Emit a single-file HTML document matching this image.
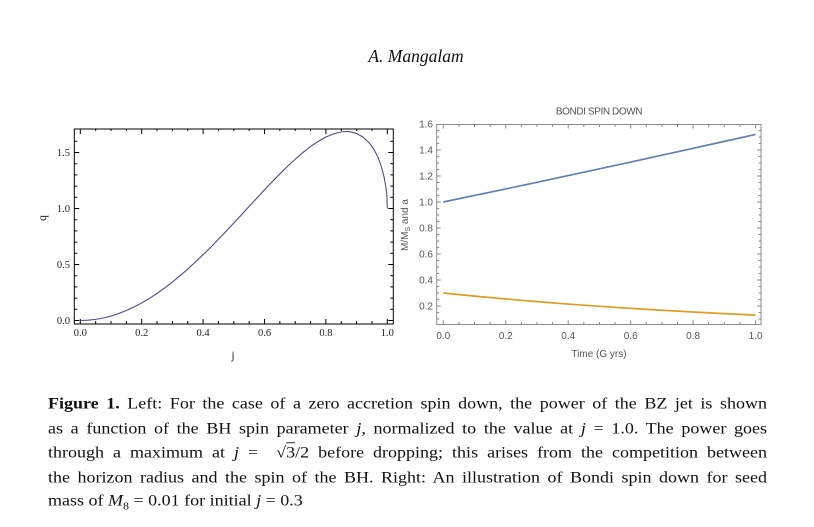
<!DOCTYPE html>
<html><head><meta charset="utf-8"><style>
html,body{margin:0;padding:0;background:#fff;}
body{width:814px;height:527px;position:relative;overflow:hidden;}
.cap{position:absolute;left:48px;width:719px;font-family:"Liberation Serif",serif;font-size:18px;color:#111;text-align:justify;text-align-last:justify;white-space:normal;line-height:22px;transform:scaleY(0.88);transform-origin:50% 50%;}
.cap i{font-style:italic;}
.hdr{position:absolute;left:0;width:832px;top:46px;text-align:center;font-family:"Liberation Serif",serif;font-style:italic;font-size:17.5px;color:#111;}
</style></head><body>
<div class="hdr">A. Mangalam</div>
<svg width="814" height="527" style="position:absolute;left:0;top:0" xmlns="http://www.w3.org/2000/svg">
<!-- LEFT PLOT -->
<g fill="none" stroke="#000" stroke-width="1">
<rect x="74.3" y="129" width="319" height="195"/>
<path d="M80.3 324V319M95.65 324V321M111 324V321M126.35 324V321M141.7 324V319M157.05 324V321M172.4 324V321M187.75 324V321M203.1 324V319M218.45 324V321M233.8 324V321M249.15 324V321M264.5 324V319M279.85 324V321M295.2 324V321M310.55 324V321M325.9 324V319M341.25 324V321M356.6 324V321M371.95 324V321M387.3 324V319"/>
<path d="M80.3 129V134M95.65 129V131M111 129V131M126.35 129V131M141.7 129V134M157.05 129V131M172.4 129V131M187.75 129V131M203.1 129V134M218.45 129V131M233.8 129V131M249.15 129V131M264.5 129V134M279.85 129V131M295.2 129V131M310.55 129V131M325.9 129V134M341.25 129V131M356.6 129V131M371.95 129V131M387.3 129V134"/>
<path d="M74.3 320.5H79.3M74.3 309.3H77.3M74.3 298.1H77.3M74.3 286.9H77.3M74.3 275.7H77.3M74.3 264.5H79.3M74.3 253.3H77.3M74.3 242.1H77.3M74.3 230.9H77.3M74.3 219.7H77.3M74.3 208.5H79.3M74.3 197.3H77.3M74.3 186.1H77.3M74.3 174.9H77.3M74.3 163.7H77.3M74.3 152.5H79.3M74.3 141.3H77.3"/>
<path d="M393.3 320.5H388.3M393.3 309.3H390.3M393.3 298.1H390.3M393.3 286.9H390.3M393.3 275.7H390.3M393.3 264.5H388.3M393.3 253.3H390.3M393.3 242.1H390.3M393.3 230.9H390.3M393.3 219.7H390.3M393.3 208.5H388.3M393.3 197.3H390.3M393.3 186.1H390.3M393.3 174.9H390.3M393.3 163.7H390.3M393.3 152.5H388.3M393.3 141.3H390.3"/>
</g>
<polyline fill="none" stroke="#4a4a92" stroke-width="1.1" points="80.3,320.5 88,320.2 95.65,319.38 103.3,318 111,316.04 118.7,313.5 126.35,310.53 134,307 141.7,302.94 149.4,298.4 157.05,293.38 164.7,287.9 172.4,282.02 180.1,275.7 187.75,269.04 195.4,262 203.1,254.68 210.8,247.1 218.45,239.22 226.1,231.2 233.8,223 241.5,214.7 249.15,206.4 256.8,198.1 264.5,189.86 272.2,181.8 279.85,173.93 287.5,166.4 295.2,159.25 302.9,152.6 310.55,146.6 318.2,141.4 325.9,137 333.6,133.9 341.25,131.87 346.17,131.5 350.46,131.81 356.6,133.46 362.74,136.84 368.88,142.49 371.95,146.44 375.02,151.39 378.09,157.66 381.16,165.86 384.23,177.57 385.77,186.36 386.6,193 386.99,198.5 387.3,208.5"/>
<g font-family="Liberation Serif, serif" font-size="10.5" fill="#222" text-anchor="middle">
<text x="80.3" y="336">0.0</text><text x="141.7" y="336">0.2</text><text x="203.1" y="336">0.4</text><text x="264.5" y="336">0.6</text><text x="325.9" y="336">0.8</text><text x="387.3" y="336">1.0</text>
</g>
<g font-family="Liberation Serif, serif" font-size="10.5" fill="#222" text-anchor="end">
<text x="70" y="324">0.0</text><text x="70" y="268">0.5</text><text x="70" y="212">1.0</text><text x="70" y="156">1.5</text>
</g>
<text x="233" y="359" font-family="Liberation Serif, serif" font-size="11.5" fill="#222" text-anchor="middle">j</text>
<text transform="translate(46,218) rotate(-90)" font-family="Liberation Serif, serif" font-size="11.5" fill="#222" text-anchor="middle">q</text>

<!-- RIGHT PLOT -->
<g fill="none" stroke="#8a8a8a" stroke-width="1">
<rect x="436.7" y="124.5" width="324.3" height="200"/>
<path d="M443.3 324.5V320.5M458.9 324.5V322M474.5 324.5V322M490.2 324.5V322M505.8 324.5V320.5M521.4 324.5V322M537 324.5V322M552.6 324.5V322M568.2 324.5V320.5M583.8 324.5V322M599.5 324.5V322M615.1 324.5V322M630.7 324.5V320.5M646.3 324.5V322M661.9 324.5V322M677.5 324.5V322M693.1 324.5V320.5M708.7 324.5V322M724.3 324.5V322M740 324.5V322M755.6 324.5V320.5"/>
<path d="M443.3 124.5V128.5M458.9 124.5V127M474.5 124.5V127M490.2 124.5V127M505.8 124.5V128.5M521.4 124.5V127M537 124.5V127M552.6 124.5V127M568.2 124.5V128.5M583.8 124.5V127M599.5 124.5V127M615.1 124.5V127M630.7 124.5V128.5M646.3 124.5V127M661.9 124.5V127M677.5 124.5V127M693.1 124.5V128.5M708.7 124.5V127M724.3 124.5V127M740 124.5V127M755.6 124.5V128.5"/>
<path d="M436.7 319H439.2M436.7 312.5H439.2M436.7 306H440.7M436.7 299.5H439.2M436.7 293H439.2M436.7 286.5H439.2M436.7 280H440.7M436.7 273.5H439.2M436.7 267H439.2M436.7 260.5H439.2M436.7 254H440.7M436.7 247.5H439.2M436.7 241H439.2M436.7 234.5H439.2M436.7 228H440.7M436.7 221.5H439.2M436.7 215H439.2M436.7 208.5H439.2M436.7 202H440.7M436.7 195.5H439.2M436.7 189H439.2M436.7 182.5H439.2M436.7 176H440.7M436.7 169.5H439.2M436.7 163H439.2M436.7 156.5H439.2M436.7 150H440.7M436.7 143.5H439.2M436.7 137H439.2M436.7 130.5H439.2"/>
<path d="M761 319H758.5M761 312.5H758.5M761 306H757M761 299.5H758.5M761 293H758.5M761 286.5H758.5M761 280H757M761 273.5H758.5M761 267H758.5M761 260.5H758.5M761 254H757M761 247.5H758.5M761 241H758.5M761 234.5H758.5M761 228H757M761 221.5H758.5M761 215H758.5M761 208.5H758.5M761 202H757M761 195.5H758.5M761 189H758.5M761 182.5H758.5M761 176H757M761 169.5H758.5M761 163H758.5M761 156.5H758.5M761 150H757M761 143.5H758.5M761 137H758.5M761 130.5H758.5"/>
</g>
<polyline fill="none" stroke="#5e81b5" stroke-width="1.7" points="443.3,202 474.5,195.47 505.8,188.9 537,182.27 568.2,175.58 599.5,168.85 630.7,162.06 661.9,155.23 693.1,148.34 724.3,141.39 755.6,134.4"/>
<polyline fill="none" stroke="#e19c24" stroke-width="1.7" points="443.3,293 474.5,296.13 505.8,299 537,301.65 568.2,304.09 599.5,306.32 630.7,308.38 661.9,310.28 693.1,312.02 724.3,313.62 755.6,315.1"/>
<g font-family="Liberation Sans, sans-serif" font-size="10" fill="#555" text-anchor="middle">
<text x="443.3" y="339">0.0</text><text x="505.8" y="339">0.2</text><text x="568.2" y="339">0.4</text><text x="630.7" y="339">0.6</text><text x="693.1" y="339">0.8</text><text x="755.6" y="339">1.0</text>
</g>
<g font-family="Liberation Sans, sans-serif" font-size="10" fill="#555" text-anchor="end">
<text x="433" y="309.5">0.2</text><text x="433" y="283.5">0.4</text><text x="433" y="257.5">0.6</text><text x="433" y="231.5">0.8</text><text x="433" y="205.5">1.0</text><text x="433" y="179.5">1.2</text><text x="433" y="153.5">1.4</text><text x="433" y="127.5">1.6</text>
</g>
<text x="599" y="114.5" font-family="Liberation Sans, sans-serif" font-size="10" fill="#555" text-anchor="middle" letter-spacing="-0.4">BONDI SPIN DOWN</text>
<text x="599" y="357" font-family="Liberation Sans, sans-serif" font-size="10" fill="#555" text-anchor="middle">Time (G yrs)</text>
<text transform="translate(408,225) rotate(-90)" font-family="Liberation Sans, sans-serif" font-size="10" fill="#555" text-anchor="middle">M/M<tspan font-size="7" dy="2">S</tspan><tspan dy="-2"> and a</tspan></text>
</svg>

<div class="cap" style="top:392px;"><b>Figure 1.</b> Left: For the case of a zero accretion spin down, the power of the BZ jet is shown</div>
<div class="cap" style="top:416.7px;">as a function of the BH spin parameter <i>j</i>, normalized to the value at <i>j</i> = 1.0. The power goes</div>
<div class="cap" style="top:441.3px;">through a maximum at <i>j</i> = &nbsp;√<span style="text-decoration:overline">3</span>/2 before dropping; this arises from the competition between</div>
<div class="cap" style="top:465.7px;">the horizon radius and the spin of the BH. Right: An illustration of Bondi spin down for seed</div>
<div class="cap" style="top:489px;text-align:left;text-align-last:left;">mass of <i>M</i><sub style="font-size:12px">8</sub> = 0.01 for initial <i>j</i> = 0.3</div>
</body></html>
